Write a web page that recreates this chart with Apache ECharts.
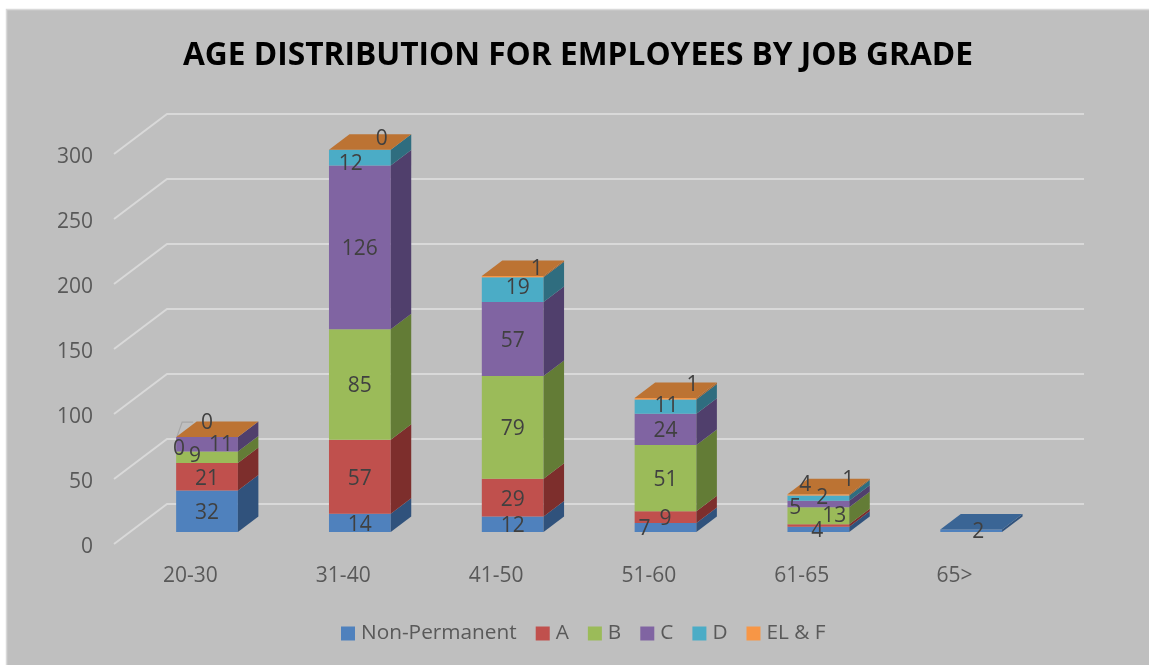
<!DOCTYPE html>
<html>
<head>
<meta charset="utf-8">
<style>html,body{margin:0;padding:0;background:#fff}#chart{width:1149px;height:665px}</style>
<script src="https://cdn.jsdelivr.net/npm/echarts@6/dist/echarts.min.js"></script>
</head>
<body>
<div id="chart"></div>
<script>
// Head-count per age band, one list per job grade (bottom of the stack first).
const ageBands = ['20-30', '31-40', '41-50', '51-60', '61-65', '65>'];
const nonPermanent = [32, 14, 12, 7, 4, 2];
const gradeA = [21, 57, 29, 9, 2, null];
const gradeB = [9, 85, 79, 51, 13, null];
const gradeC = [11, 126, 57, 24, 5, null];
const gradeD = [0, 12, 19, 11, 4, null];
const gradeELF = [0, 0, 1, 1, 1, null];
const valueTicks = [0, 50, 100, 150, 200, 250, 300];

const grades = [
  { name: 'Non-Permanent', values: nonPermanent, front: '#4f81bd', side: '#30527c', top: '#3a6595' },
  { name: 'A', values: gradeA, front: '#c0504d', side: '#7d2e2c', top: '#96403d' },
  { name: 'B', values: gradeB, front: '#9bbb59', side: '#637c36', top: '#7b9646' },
  { name: 'C', values: gradeC, front: '#8064a2', side: '#503f6c', top: '#655081' },
  { name: 'D', values: gradeD, front: '#4bacc6', side: '#2f6d7f', top: '#3b899e' },
  { name: 'EL & F', values: gradeELF, front: '#f79646', side: '#a5632c', top: '#bc7333' }
];

// Hand placement of crowded value labels, keyed "band,grade"; dx/dy in pixels from the segment centre.
const labelNudges = {
  '0,2': { dx: -12, dy: -1 }, '0,3': { dx: 14, dy: 1 }, '0,4': { dx: -28, dy: 12 },
  '0,5': { dx: 0, dy: -14, leader: true },
  '1,4': { dx: -9, dy: 6 }, '1,5': { dx: 22, dy: -11 },
  '2,4': { dx: 5, dy: -2 }, '2,5': { dx: 24, dy: -8 },
  '3,0': { dx: -21, dy: 2 }, '3,4': { dx: 1, dy: -1 }, '3,5': { dx: 27, dy: -14 },
  '4,0': { dx: -1, dy: 1.5 }, '4,1': { dx: 4, dy: -27 }, '4,2': { dx: 16, dy: 0 },
  '4,3': { dx: -23, dy: 4 }, '4,4': { dx: -13, dy: -13 }, '4,5': { dx: 30, dy: -15 },
  '5,0': { dx: 7, dy: 1 }
};

const FONT = '"Open Sans", sans-serif';
const BAR_RATIO = 0.404;
const BAR_DEPTH = [20.5, -15.5];
const WALL_DEPTH = [53, -40];

// Highest grade present in each band: it carries the bar's top face.
const topGrade = ageBands.map((_, band) => {
  let last = 0;
  grades.forEach((g, idx) => { if (g.values[band] !== null) last = idx; });
  return last;
});

// Running totals turn the per-grade lists into stacked [band, from, to, value] rows.
const running = ageBands.map(() => 0);
const stackedRows = grades.map(g => {
  const rows = [];
  g.values.forEach((v, band) => {
    if (v === null) return;
    rows.push([band, running[band], running[band] + v, v]);
    running[band] += v;
  });
  return rows;
});

function renderSegment(gradeIdx) {
  const grade = grades[gradeIdx];
  return function (params, api) {
    const band = api.value(0), from = api.value(1), to = api.value(2), value = api.value(3);
    const base = api.coord([band, from]);
    const head = api.coord([band, to]);
    const halfW = api.size([1, 0])[0] * BAR_RATIO / 2;
    const [ox, oy] = BAR_DEPTH;
    const xl = base[0] - halfW, xr = base[0] + halfW;
    const children = [
      { type: 'polygon', shape: { points: [[xl, base[1]], [xr, base[1]], [xr, head[1]], [xl, head[1]]] }, style: { fill: grade.front } },
      { type: 'polygon', shape: { points: [[xr, base[1]], [xr + ox, base[1] + oy], [xr + ox, head[1] + oy], [xr, head[1]]] }, style: { fill: grade.side } }
    ];
    if (topGrade[band] === gradeIdx) {
      children.push({ type: 'polygon', z2: 5, shape: { points: [[xl, head[1]], [xr, head[1]], [xr + ox, head[1] + oy], [xl + ox, head[1] + oy]] }, style: { fill: grade.top } });
    }
    const nudge = labelNudges[band + ',' + gradeIdx] || { dx: 0, dy: 2 };
    children.push({
      type: 'text', z2: 100,
      x: base[0] + nudge.dx, y: (base[1] + head[1]) / 2 + nudge.dy,
      style: { text: String(value), fill: '#404040', fontFamily: FONT, fontSize: 21, align: 'center', verticalAlign: 'middle' }
    });
    if (nudge.leader) {
      children.push({
        type: 'polyline', z2: 1,
        shape: { points: [[xl + 1, head[1] - 1], [xl + 6, head[1] - 15], [xl + 17, head[1] - 15]] },
        style: { stroke: '#a6a6a6', lineWidth: 1.2, fill: 'none' }
      });
    }
    return { type: 'group', children };
  };
}

// Gridlines fold from the front plane, back along the side wall, then across the rear wall.
function renderWallLine(params, api) {
  const p = api.coord([0, api.value(0)]);
  const halfBand = api.size([1, 0])[0] / 2;
  const x0 = p[0] - halfBand;
  const span = api.size([1, 0])[0] * ageBands.length;
  return {
    type: 'polyline',
    shape: { points: [[x0, p[1]], [x0 + WALL_DEPTH[0], p[1] + WALL_DEPTH[1]], [x0 + WALL_DEPTH[0] + span, p[1] + WALL_DEPTH[1]]] },
    style: { stroke: '#d9d9d9', lineWidth: 2, fill: 'none' }
  };
}

const chart = echarts.init(document.getElementById('chart'), null, { renderer: 'canvas' });
chart.setOption({
  animation: false,
  backgroundColor: '#ffffff',
  graphic: [{
    type: 'rect', z: -10, silent: true,
    shape: { x: 6.5, y: 9.5, width: 1150, height: 665 },
    style: { fill: '#bfbfbf', stroke: '#d9d9d9', lineWidth: 1.5 }
  }],
  title: {
    text: 'AGE DISTRIBUTION FOR EMPLOYEES BY JOB GRADE',
    left: 573, top: 35, textAlign: 'center',
    textStyle: { fontFamily: FONT, fontSize: 31.7, fontWeight: 'bold', color: '#000000' }
  },
  legend: {
    left: 336, top: 618, icon: 'rect', itemWidth: 14, itemHeight: 14, itemGap: 19,
    data: grades.map(g => g.name),
    textStyle: { fontFamily: FONT, fontSize: 20.8, color: '#595959', padding: [0, 0, 0, 1] }
  },
  // Grid 0: front plane for walls and category labels. Grid 1: bars. Grid 2: value labels, set just below the ticks.
  grid: [
    { left: 114, top: 154, width: 917, height: 390 },
    { left: 130.6, top: 142, width: 917, height: 390 },
    { left: 114, top: 157, width: 917, height: 390 }
  ],
  xAxis: [
    { gridIndex: 0, type: 'category', data: ageBands, axisLine: { show: false }, axisTick: { show: false },
      axisLabel: { margin: 22, interval: 0, fontFamily: FONT, fontSize: 21, color: '#595959' } },
    { gridIndex: 1, type: 'category', data: ageBands, show: false },
    { gridIndex: 2, type: 'category', data: ageBands, show: false }
  ],
  yAxis: [
    { gridIndex: 0, type: 'value', min: 0, max: 300, interval: 50, show: false, splitLine: { show: false } },
    { gridIndex: 1, type: 'value', min: 0, max: 300, interval: 50, show: false, splitLine: { show: false } },
    { gridIndex: 2, type: 'value', min: 0, max: 300, interval: 50, axisLine: { show: false }, axisTick: { show: false }, splitLine: { show: false },
      axisLabel: { margin: 21, fontFamily: FONT, fontSize: 21, color: '#595959' } }
  ],
  series: [
    { type: 'custom', name: 'wall', xAxisIndex: 0, yAxisIndex: 0, silent: true, z: 1,
      renderItem: renderWallLine, encode: { y: 0 }, data: valueTicks.map(v => [v]) }
  ].concat(grades.map((g, idx) => ({
    type: 'custom', name: g.name, xAxisIndex: 1, yAxisIndex: 1, silent: true, z: 2, clip: false,
    itemStyle: { color: g.front },
    renderItem: renderSegment(idx),
    encode: { x: 0, y: [1, 2] },
    data: stackedRows[idx]
  })))
});
</script>
</body>
</html>
